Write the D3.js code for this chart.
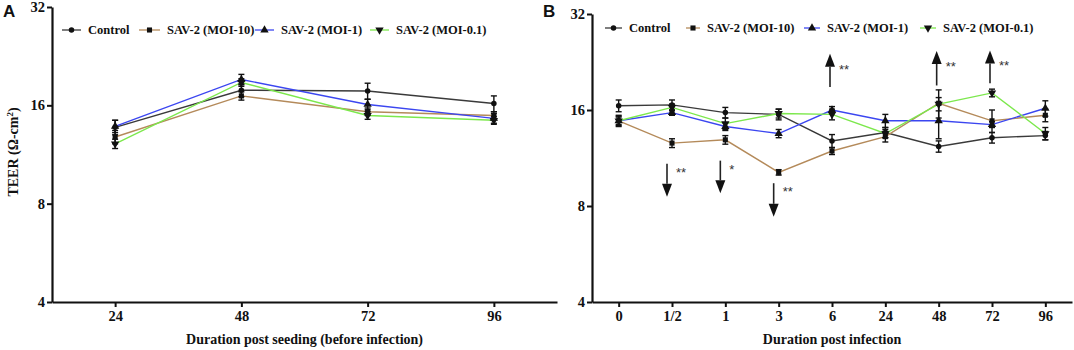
<!DOCTYPE html>
<html>
<head>
<meta charset="utf-8">
<script src="https://cdn.jsdelivr.net/npm/d3@7"></script>
<style>
  body { margin: 0; background: #fff; }
  svg { display: block; }
  .tick text { font-family: "Liberation Serif", "Times New Roman", serif; font-weight: bold; font-size: 14.5px; fill: #111; }
  .title { font-family: "Liberation Serif", "Times New Roman", serif; font-weight: bold; font-size: 14px; fill: #111; }
  .legend text { font-family: "Liberation Serif", "Times New Roman", serif; font-weight: bold; font-size: 12.5px; fill: #111; }
  .letter { font-family: "Liberation Sans", Arial, sans-serif; font-weight: bold; font-size: 17px; fill: #111; }
  .stars { font-family: "Liberation Sans", Arial, sans-serif; font-size: 13px; fill: #333; }
</style>
</head>
<body>
<div id="chart"></div>
<script>
// series shared by both panels
const seriesNames = ["Control", "SAV-2 (MOI-10)", "SAV-2 (MOI-1)", "SAV-2 (MOI-0.1)"];
const seriesColors = ["#3a3a3a", "#b48a5a", "#3b46f0", "#7ce84c"];
const yTicks = [4, 8, 16, 32];

// panel A: before infection
const timesA = ["24", "48", "72", "96"];
const controlA = [13.7, 17.8, 17.7, 16.2];
const moi10A = [12.8, 17.1, 15.3, 14.9];
const moi1A = [13.8, 19.2, 16.1, 14.6];
const moi01A = [12.2, 18.8, 14.9, 14.4];
const controlAErr = [0.7, 0.8, 1.0, 0.9];
const moi10AErr = [0.6, 0.5, 0.4, 0.4];
const moi1AErr = [0.6, 0.7, 0.6, 0.5];
const moi01AErr = [0.4, 0.5, 0.4, 0.4];

// panel B: after infection
const timesB = ["0", "1/2", "1", "3", "6", "24", "48", "72", "96"];
const controlB = [16.5, 16.6, 15.7, 15.5, 12.8, 13.6, 12.3, 13.1, 13.3];
const moi10B = [14.8, 12.6, 12.9, 10.2, 11.9, 13.2, 16.8, 14.8, 15.4];
const moi1B = [14.8, 15.7, 14.2, 13.5, 16.0, 14.8, 14.8, 14.4, 16.2];
const moi01B = [14.8, 16.3, 14.5, 15.6, 15.5, 13.5, 16.7, 18.1, 13.5];
const controlBErr = [0.7, 0.6, 0.6, 0.6, 0.6, 0.5, 0.5, 0.5, 0.4];
const moi10BErr = [0.5, 0.4, 0.4, 0.2, 0.3, 0.5, 1.7, 1.2, 0.7];
const moi1BErr = [0.4, 0.3, 0.4, 0.4, 0.4, 0.7, 1.8, 0.3, 0.9];
const moi01BErr = [0.6, 0.4, 0.6, 0.5, 0.6, 0.4, 0.8, 0.5, 0.6];

// significance arrows in panel B (from -> tip value, at a time point)
const arrowTimes = ["1/2", "1", "3", "6", "48", "72"];
const arrowFrom = [10.85, 11.1, 9.43, 18.9, 19.1, 19.4];
const arrowTip = [8.56, 8.77, 7.4, 24.0, 24.5, 24.6];
const arrowStars = ["**", "*", "**", "**", "**", "**"];

const W = 1074, H = 350;
const svg = d3.select("#chart").append("svg").attr("width", W).attr("height", H);

const symbols = [
    d3.symbol().type(d3.symbolCircle).size(24),
    d3.symbol().type(d3.symbolSquare).size(26),
    d3.symbol().type(d3.symbolTriangle).size(30),
    d3.symbol().type(d3.symbolTriangle).size(30)
];
const symbolRotate = [0, 0, 0, 180];

function drawPanel(p) {
    const g = svg.append("g");
    const x = d3.scalePoint().domain(p.times).range(p.xRange).padding(0.5);
    const y = d3.scaleLog().base(2).domain([4, 32]).range(p.yRange);

    const series = p.values.map((vals, k) => ({
        k: k,
        pts: vals.map((v, i) => ({ t: p.times[i], v: v, e: p.errs[k][i] }))
    }));

    const line = d3.line().x(d => x(d.t)).y(d => y(d.v));

    g.selectAll(".series").data(series).join("path")
        .attr("class", "series")
        .attr("d", d => line(d.pts))
        .attr("fill", "none")
        .attr("stroke", d => seriesColors[d.k])
        .attr("stroke-width", 1.4);

    // error bars
    const allPts = series.flatMap(s => s.pts.map(pt => Object.assign({ k: s.k }, pt)));
    const eb = g.selectAll(".err").data(allPts).join("g").attr("class", "err")
        .attr("stroke", "#111").attr("stroke-width", 1.4);
    eb.append("line")
        .attr("x1", d => x(d.t)).attr("x2", d => x(d.t))
        .attr("y1", d => y(d.v - d.e)).attr("y2", d => y(d.v + d.e));
    eb.append("line")
        .attr("x1", d => x(d.t) - 3).attr("x2", d => x(d.t) + 3)
        .attr("y1", d => y(d.v + d.e)).attr("y2", d => y(d.v + d.e));
    eb.append("line")
        .attr("x1", d => x(d.t) - 3).attr("x2", d => x(d.t) + 3)
        .attr("y1", d => y(d.v - d.e)).attr("y2", d => y(d.v - d.e));

    g.selectAll(".mark").data(allPts).join("path")
        .attr("class", "mark")
        .attr("d", d => symbols[d.k]())
        .attr("transform", d => `translate(${x(d.t)},${y(d.v)}) rotate(${symbolRotate[d.k]})`)
        .attr("fill", "#111");

    // axes
    const yAxis = g.append("g")
        .attr("transform", `translate(${p.xRange[0]},0)`)
        .call(d3.axisLeft(y).tickValues(yTicks).tickFormat(d3.format("d")).tickSize(5).tickSizeOuter(0).tickPadding(2));
    const xAxis = g.append("g")
        .attr("transform", `translate(0,${p.yRange[0]})`)
        .call(d3.axisBottom(x).tickSize(5).tickSizeOuter(0).tickPadding(4));
    [yAxis, xAxis].forEach(a => {
        a.select(".domain").attr("stroke", "#111").attr("stroke-width", 2.2);
        a.selectAll(".tick line").attr("stroke", "#111").attr("stroke-width", 2);
    });

    g.append("text").attr("class", "title")
        .attr("x", (p.xRange[0] + p.xRange[1]) / 2 + p.titleDx).attr("y", 344)
        .attr("text-anchor", "middle").text(p.xTitle);

    g.append("text").attr("class", "letter")
        .attr("x", p.letterX).attr("y", 17).text(p.letter);

    // legend
    const lg = g.append("g").attr("class", "legend");
    const items = lg.selectAll("g").data(seriesNames).join("g")
        .attr("transform", (d, k) => `translate(${p.legendX[k]},${p.legendY})`);
    items.append("line")
        .attr("x1", 0).attr("x2", (d, k) => p.legendLen[k])
        .attr("stroke", (d, k) => seriesColors[k]).attr("stroke-width", 1.3);
    items.append("path")
        .attr("d", (d, k) => symbols[k]())
        .attr("transform", (d, k) => `translate(${p.legendLen[k] / 2},0) rotate(${symbolRotate[k]})`)
        .attr("fill", "#111");
    items.append("text")
        .attr("x", (d, k) => p.legendLen[k] + 7).attr("dy", "0.35em").text(d => d);

    return { g, x, y };
}

drawPanel({
    letter: "A", letterX: 3,
    times: timesA,
    values: [controlA, moi10A, moi1A, moi01A],
    errs: [controlAErr, moi10AErr, moi1AErr, moi01AErr],
    xRange: [52, 557], yRange: [302, 7],
    xTitle: "Duration post seeding (before infection)", titleDx: 0,
    legendX: [62, 139, 255, 370], legendLen: [19, 21, 19, 19], legendY: 30
});

const B = drawPanel({
    letter: "B", letterX: 543,
    times: timesB,
    values: [controlB, moi10B, moi1B, moi01B],
    errs: [controlBErr, moi10BErr, moi1BErr, moi01BErr],
    xRange: [592, 1072], yRange: [302, 14],
    xTitle: "Duration post infection", titleDx: 0,
    legendX: [605, 686, 804, 920], legendLen: [17, 14, 16, 16], legendY: 28
});

// y axis title of panel A
svg.append("text").attr("class", "title")
    .attr("transform", "translate(18,152) rotate(-90)")
    .attr("text-anchor", "middle")
    .html('TEER (Ω-cm<tspan dy="-5" font-size="9px">2</tspan><tspan dy="5">)</tspan>');

// significance arrows
const arrows = arrowTimes.map((t, i) => ({ t: t, from: arrowFrom[i], tip: arrowTip[i], s: arrowStars[i] }));
const ag = B.g.append("g").selectAll("g").data(arrows).join("g");
ag.each(function (d) {
    const a = d3.select(this);
    const up = d.tip > d.from;
    const ax = B.x(d.t) - (up ? 2 : 5);
    const yTip = B.y(d.tip), yFrom = B.y(d.from);
    const head = up ? 13 : -13;
    a.append("line")
        .attr("x1", ax).attr("x2", ax)
        .attr("y1", yFrom).attr("y2", yTip + head)
        .attr("stroke", "#222").attr("stroke-width", 1.6);
    a.append("path")
        .attr("d", `M${ax},${yTip} L${ax - 5},${yTip + head} L${ax + 5},${yTip + head} Z`)
        .attr("fill", "#111");
    a.append("text").attr("class", "stars")
        .attr("x", ax + 9)
        .attr("y", up ? yTip + 20 : yFrom + 13)
        .text(d.s);
});
</script>
</body>
</html>
